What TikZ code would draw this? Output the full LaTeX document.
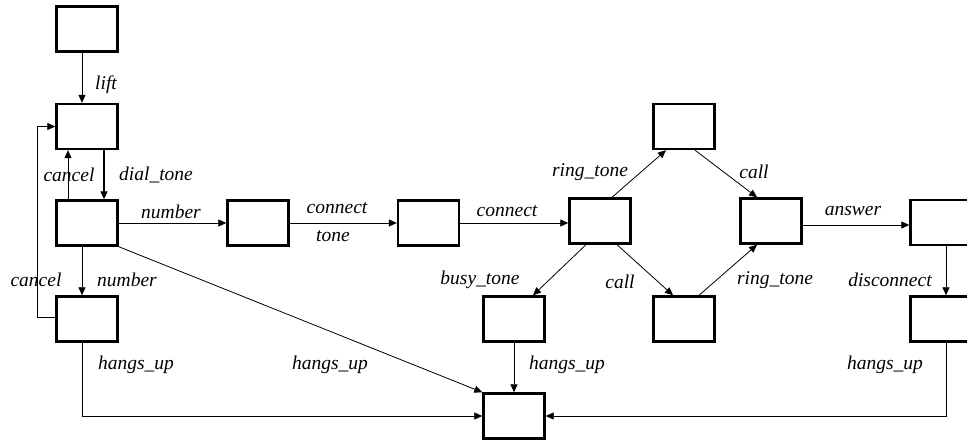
\documentclass[tikz,border=0pt]{standalone}
\usepackage{fontspec}
\setmainfont{Liberation Serif}
\usetikzlibrary{arrows.meta}
\begin{document}
\begin{tikzpicture}[x=1pt,y=-1pt,
  state/.style={draw,line width=2.4pt,minimum width=61pt,minimum height=45pt,inner sep=0pt},
  conn/.style={line width=0.8pt,-{Triangle[length=8pt,width=7pt]}},
  lbl/.style={font=\fontsize{19.5}{21}\selectfont\itshape,inner sep=0pt}]
\clip (0,0) rectangle (967,443);
\fill[white] (0,0) rectangle (967,443);
% states
\node[state] (A) at (87,29) {};
\node[state] (B) at (87,126.5) {};
\node[state] (C) at (87,223) {};
\node[state] (D) at (87,319) {};
\node[state] (E) at (258,223) {};
\node[state] (F) at (428.5,223) {};
\node[state] (G) at (600,221) {};
\node[state] (H) at (684,126.5) {};
\node[state] (I) at (684,319) {};
\node[state] (J) at (771,221) {};
\node[state] (K) at (941,222.5) {};
\node[state] (L) at (941,319) {};
\node[state] (M) at (514,319) {};
\node[state] (N) at (514,416) {};
% connectors
\draw[conn] ([xshift=-5pt]A.south) -- ([xshift=-5pt]B.north);
\draw[conn,line width=1.4pt] ([xshift=17pt]B.south) -- ([xshift=17pt]C.north);
\draw[conn] ([xshift=-19pt]C.north) -- ([xshift=-19pt]B.south);
\draw[conn] (C.east) -- (E.west);
\draw[conn] ([xshift=-5pt]C.south) -- ([xshift=-5pt]D.north);
\draw[conn] ([yshift=2pt]D.west) -- ++(-18,0) coordinate (dl) |- (B.west);
\draw[conn] (C.south east) -- (N.north west);
\draw[conn] ([xshift=-5pt]D.south) |- (N.west);
\draw[conn] (E.east) -- (F.west);
\draw[conn] (F.east) -- (F.east -| G.west);
\draw[conn] ([xshift=12pt]G.north) -- ([xshift=-18pt]H.south);
\draw[conn] ([xshift=11pt]H.south) -- ([xshift=-14pt]J.north);
\draw[conn] ([xshift=-14pt]G.south) -- ([xshift=19pt]M.north);
\draw[conn] ([xshift=17pt]G.south) -- ([xshift=-11pt]I.north);
\draw[conn] ([xshift=15pt]I.north) -- ([xshift=-14pt]J.south);
\draw[conn] ([yshift=-4pt]J.east) coordinate (je) -- (je -| K.west);
\draw[conn] ([xshift=5pt]K.south) -- ([xshift=5pt]L.north);
\draw[conn] ([xshift=5pt]L.south) |- (N.east);
\draw[conn] (M.south) -- (N.north);
% labels
\node[lbl] (l1) at (106,85) {lift};
\node[lbl] (l2) at (69,175) {cancel};
\node[lbl] (l3) at (156,175) {dial\_tone};
\node[lbl] (l4) at (171,212) {number};
\node[lbl] (l5) at (36,280) {cancel};
\node[lbl] (l6) at (127,280) {number};
\node[lbl] (l7) at (337,208) {connect};
\node[lbl] (l8) at (333,236) {tone};
\node[lbl] (l9) at (507,211) {connect};
\node[lbl] (l10) at (590,172) {ring\_tone};
\node[lbl] (l11) at (754,172) {call};
\node[lbl] (l12) at (480,280) {busy\_tone};
\node[lbl] (l13) at (620,282) {call};
\node[lbl] (l14) at (775,280) {ring\_tone};
\node[lbl] (l15) at (853,211) {answer};
\node[lbl] (l16) at (890,280) {disconnect};
\node[lbl] (l17) at (136,365) {hangs\_up};
\node[lbl] (l18) at (330,365) {hangs\_up};
\node[lbl] (l19) at (567,365) {hangs\_up};
\node[lbl] (l20) at (885,365) {hangs\_up};
\end{tikzpicture}
\end{document}
